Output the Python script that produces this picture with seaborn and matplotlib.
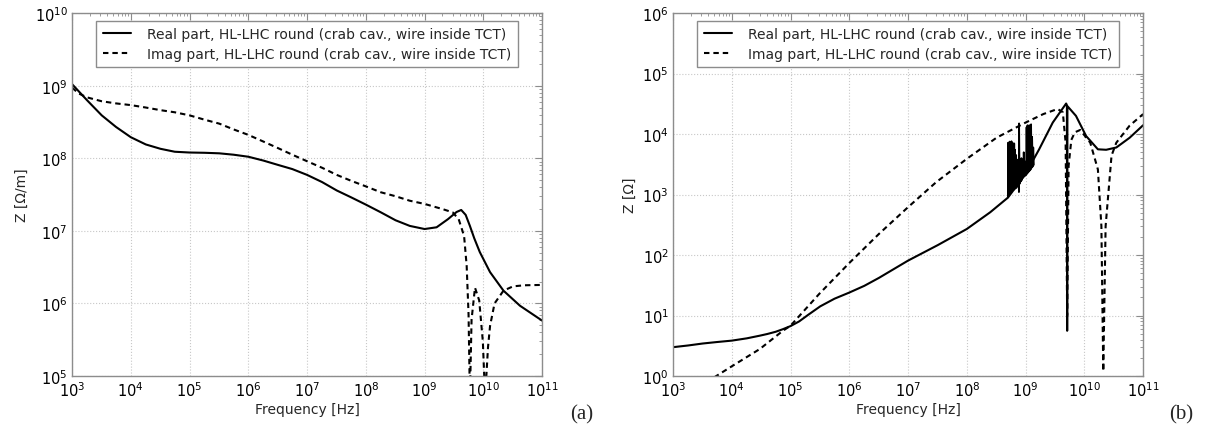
import numpy as np
import matplotlib
matplotlib.use("Agg")
import matplotlib.pyplot as plt
import matplotlib.ticker as mticker
import seaborn as sns

# (a) impedance per metre
f_a_re = [1e3, 1.8e3, 3.2e3, 5.6e3, 1e4, 1.8e4, 3.2e4, 5.6e4, 1e5, 1.8e5, 3.2e5, 5.6e5,
          1e6, 1.8e6, 3.2e6, 5.6e6, 1e7, 1.8e7, 3.2e7, 5.6e7, 1e8, 1.8e8, 3.2e8, 5.6e8,
          1e9, 1.6e9, 2.5e9, 3.5e9, 4.2e9, 5e9, 5.9e9, 7e9, 8.7e9, 1.3e10, 2.2e10, 4.2e10, 1e11]
z_a_re = [1.05e9, 6.3e8, 3.9e8, 2.7e8, 1.95e8, 1.55e8, 1.35e8, 1.23e8, 1.2e8, 1.19e8, 1.17e8, 1.12e8,
          1.05e8, 9.3e7, 8.1e7, 7.1e7, 5.9e7, 4.7e7, 3.6e7, 2.9e7, 2.3e7, 1.8e7, 1.4e7, 1.17e7,
          1.06e7, 1.12e7, 1.45e7, 1.82e7, 1.94e7, 1.66e7, 1.17e7, 7.9e6, 5.1e6, 2.7e6, 1.5e6, 9.3e5, 5.8e5]

f_a_im = [1e3, 1.3e3, 1.8e3, 3.2e3, 5.6e3, 1e4, 1.8e4, 3.2e4, 5.6e4, 1e5, 1.8e5, 3.2e5, 5.6e5,
          1e6, 1.8e6, 3.2e6, 5.6e6, 1e7, 1.8e7, 3.2e7, 5.6e7, 1e8, 1.8e8, 3.2e8, 5.6e8,
          1e9, 2e9, 3e9, 3.8e9, 4.7e9, 5.2e9, 5.6e9, 5.9e9, 6.3e9, 7.2e9, 8.5e9, 9.8e9,
          1.07e10, 1.2e10, 1.3e10, 1.55e10, 2.2e10, 3.2e10, 5e10, 1e11]
z_a_im = [9.4e8, 7.8e8, 6.9e8, 6.1e8, 5.7e8, 5.4e8, 5.0e8, 4.6e8, 4.3e8, 3.9e8, 3.4e8, 3.0e8, 2.5e8,
          2.1e8, 1.7e8, 1.38e8, 1.12e8, 9.1e7, 7.4e7, 5.9e7, 4.9e7, 4.1e7, 3.4e7, 3.0e7, 2.6e7,
          2.35e7, 2.0e7, 1.8e7, 1.45e7, 8.5e6, 3.3e6, 7e5, 5e4, 6e5, 1.65e6, 1.1e6, 3e5,
          5e4, 2.5e5, 4.9e5, 1.0e6, 1.5e6, 1.72e6, 1.78e6, 1.8e6]

# (b) impedance
f_b_re = [1e3, 1.8e3, 3.2e3, 5.6e3, 1e4, 1.8e4, 3e4, 4e4, 5.6e4, 7.4e4, 1e5, 1.4e5, 2e5, 3.2e5,
          5.6e5, 1e6, 1.8e6, 3.2e6, 5.6e6, 1e7, 3.2e7, 1e8, 2.5e8, 5e8, 1e9, 1.7e9, 2.9e9,
          4.9e9, 5.05e9, 5.1e9, 5.15e9, 7.2e9, 1.07e10, 1.7e10, 2.35e10, 3.5e10, 5.9e10, 1e11]
z_b_re = [3.0, 3.2, 3.45, 3.65, 3.85, 4.2, 4.65, 4.95, 5.4, 5.95, 6.7, 8.0, 10.3, 14.2,
          19, 24, 31, 42, 58, 81, 146, 270, 510, 890, 2200, 5600, 15500,
          32000, 30000, 5.6, 29000, 20000, 9300, 5600, 5500, 6000, 8700, 14000]

f_b_im = [5e3, 1e4, 3e4, 7.4e4, 1e5, 3.1e5, 1e6, 3.2e6, 1e7, 3e7, 1e8, 3.2e8, 1e9, 2e9,
          3.5e9, 4.3e9, 4.8e9, 5.1e9, 5.4e9, 6e9, 6.9e9, 8.5e9, 1.26e10, 1.7e10, 1.95e10,
          2.1e10, 2.3e10, 2.9e10, 3.5e10, 5.9e10, 1e11]
z_b_im = [0.95, 1.45, 2.8, 5.6, 6.8, 23, 74, 224, 620, 1600, 3900, 8700, 15500, 21400,
          26000, 23000, 7200, 10, 3000, 8000, 10700, 11700, 7200, 2600, 300,
          1.2, 300, 4400, 7200, 13800, 21400]

# numerical noise on the real part between ~5e8 and ~1.4e9 Hz
f_b_noise = [5.0e8, 5.05e8, 5.1e8, 5.15e8, 5.2e8, 5.25e8, 5.3e8, 5.35e8, 5.4e8, 5.45e8,
             5.5e8, 5.55e8, 5.6e8, 5.65e8, 5.7e8, 5.75e8, 5.8e8, 5.85e8, 5.9e8, 6.0e8,
             6.1e8, 6.2e8, 6.3e8, 6.4e8, 6.5e8, 6.6e8, 6.75e8, 6.9e8, 7.0e8, 7.1e8,
             7.3e8, 7.5e8, 7.7e8, 7.75e8, 7.9e8, 8.1e8, 8.3e8, 8.5e8, 8.7e8, 8.9e8,
             9.1e8, 9.3e8, 9.6e8, 9.9e8, 1.02e9, 1.04e9, 1.06e9, 1.08e9, 1.1e9, 1.12e9,
             1.14e9, 1.16e9, 1.18e9, 1.2e9, 1.22e9, 1.24e9, 1.26e9, 1.29e9, 1.32e9, 1.35e9,
             1.38e9]
z_b_noise = [900, 7200, 950, 6800, 980, 7000, 1000, 7500, 1020, 7300,
             1050, 7000, 1080, 7400, 1100, 7600, 1120, 7200, 1150, 6500,
             1180, 7000, 1200, 7000, 1230, 5500, 1280, 4500, 1300, 3800,
             1400, 3500, 1100, 15000, 1500, 3000, 1650, 4000, 1750, 3500,
             1900, 5000, 2000, 3500, 2100, 13000, 2200, 14000, 2300, 13500,
             2400, 14000, 2500, 13500, 2600, 14500, 2750, 9000, 2900, 6000,
             3100]

sns.set_style("whitegrid", {"grid.linestyle": ":", "grid.color": "#c8c8c8",
                            "axes.edgecolor": "#8c8c8c"})
plt.rcParams["font.family"] = ["DejaVu Sans"]
plt.rcParams["mathtext.default"] = "regular"

fig = plt.figure(figsize=(12.09, 4.27), dpi=100)
ax_a = fig.add_axes([0.0596, 0.117, 0.3888, 0.850])
ax_b = fig.add_axes([0.5567, 0.117, 0.3888, 0.850])

dash = (0, (2.6, 1.9))

sns.lineplot(x=f_a_re, y=z_a_re, ax=ax_a, color="k", lw=1.5, estimator=None, sort=False,
             label="Real part, HL-LHC round (crab cav., wire inside TCT)")
sns.lineplot(x=f_a_im, y=z_a_im, ax=ax_a, color="k", lw=1.5, linestyle=dash, estimator=None,
             sort=False, label="Imag part, HL-LHC round (crab cav., wire inside TCT)")

sns.lineplot(x=f_b_noise, y=z_b_noise, ax=ax_b, color="k", lw=1.3, estimator=None, sort=False)
sns.lineplot(x=f_b_re, y=z_b_re, ax=ax_b, color="k", lw=1.5, estimator=None, sort=False,
             label="Real part, HL-LHC round (crab cav., wire inside TCT)")
sns.lineplot(x=f_b_im, y=z_b_im, ax=ax_b, color="k", lw=1.5, linestyle=dash, estimator=None,
             sort=False, label="Imag part, HL-LHC round (crab cav., wire inside TCT)")

for ax, ylim, ylab in [(ax_a, (1e5, 1e10), "Z [Ω/m]"), (ax_b, (1e0, 1e6), "Z [Ω]")]:
    ax.set_xscale("log")
    ax.set_yscale("log")
    ax.set_xlim(1e3, 1e11)
    ax.set_ylim(*ylim)
    ax.xaxis.set_major_locator(mticker.LogLocator(base=10, numticks=20))
    ax.yaxis.set_major_locator(mticker.LogLocator(base=10, numticks=20))
    ax.xaxis.set_minor_locator(mticker.LogLocator(base=10, subs=np.arange(2, 10), numticks=200))
    ax.yaxis.set_minor_locator(mticker.LogLocator(base=10, subs=np.arange(2, 10), numticks=200))
    ax.xaxis.set_minor_formatter(mticker.NullFormatter())
    ax.yaxis.set_minor_formatter(mticker.NullFormatter())
    ax.tick_params(which="both", direction="in", top=True, right=True, color="#8c8c8c",
                   labelsize=10.5, labelcolor="k")
    ax.tick_params(which="major", length=5, width=0.8, pad=3)
    ax.tick_params(which="minor", length=2.5, width=0.6)
    ax.grid(True, which="major")
    ax.grid(False, which="minor")
    for sp in ax.spines.values():
        sp.set_linewidth(1.0)
    ax.set_xlabel("Frequency [Hz]", fontsize=10, labelpad=2)
    ax.set_ylabel(ylab, fontsize=10, labelpad=4)
    leg = ax.legend(loc="upper center", fontsize=10, frameon=True, fancybox=False,
                    edgecolor="#8c8c8c", framealpha=1, borderaxespad=0.55,
                    handlelength=2.0, borderpad=0.45, labelspacing=0.45, handletextpad=1.2)
    leg.get_frame().set_linewidth(1.0)

fig.text(0.481, 0.028, "(a)", family="Liberation Serif", fontsize=15, ha="center", va="center")
fig.text(0.977, 0.028, "(b)", family="Liberation Serif", fontsize=15, ha="center", va="center")

fig.savefig("out.png", dpi=100)
